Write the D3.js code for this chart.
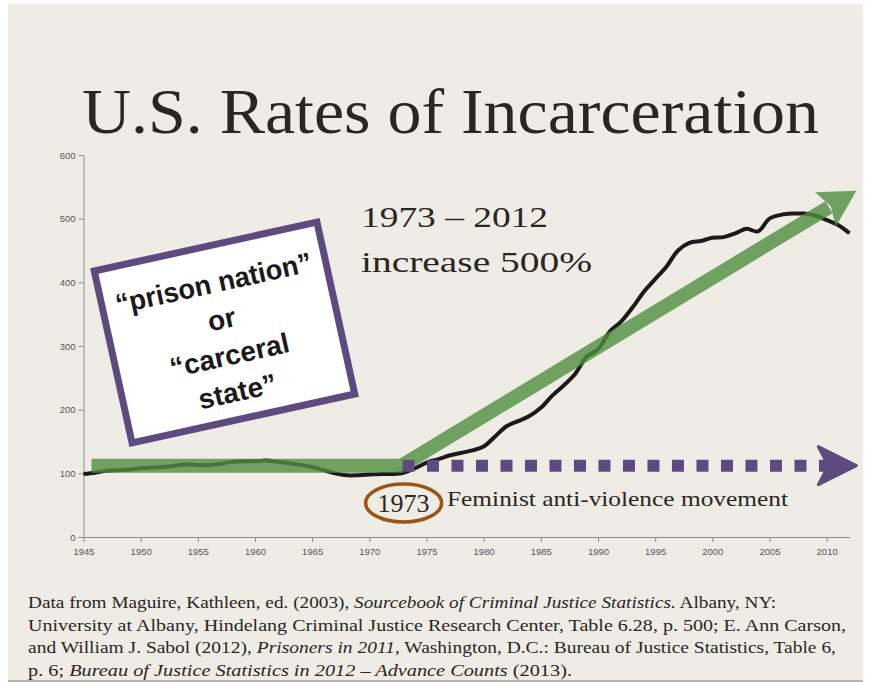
<!DOCTYPE html>
<html>
<head>
<meta charset="utf-8">
<script src="https://cdn.jsdelivr.net/npm/d3@7"></script>
<style>
  html, body { margin: 0; padding: 0; background: #fff; }
  svg { display: block; }
</style>
</head>
<body>
<svg width="874" height="683"></svg>
<script>
// incarceration rate per 100,000
const years = d3.range(1945, 2013);
const rates = [
  99, 101, 104, 105, 106, 108, 109, 110, 112, 114,
  113, 113, 115, 118, 119, 119, 120, 118, 116, 113,
  110, 105, 100, 97, 97, 98, 99, 99, 101, 108,
  117, 122, 128, 132, 136, 142, 158, 174, 182, 190,
  203, 222, 238, 256, 283, 295, 322, 338, 360, 385,
  405, 425, 450, 462, 465, 470, 471, 477, 484, 480,
  500, 506, 508, 508, 505, 498, 490, 477
];
const yTicks = [0, 100, 200, 300, 400, 500, 600];
const xTicks = d3.range(1945, 2011, 5);

// annotation arrows, in data units
const growthArrow = [[1945.7, 112], [1972.8, 112], [2012.6, 544]];
const movementArrow = [[1972.9, 112], [2012.6, 112]];

const boxLines = ['\u201Cprison nation\u201D', 'or', '\u201Ccarceral', 'state\u201D'];
const footer = [
  [['Data from Maguire, Kathleen, ed. (2003), ', false], ['Sourcebook of Criminal Justice Statistics.', true], [' Albany, NY:', false]],
  [['University at Albany, Hindelang Criminal Justice Research Center, Table 6.28, p. 500; E. Ann Carson,', false]],
  [['and William J. Sabol (2012), ', false], ['Prisoners in 2011', true], [', Washington, D.C.: Bureau of Justice Statistics, Table 6,', false]],
  [['p. 6; ', false], ['Bureau of Justice Statistics in 2012 \u2013 Advance Counts', true], [' (2013).', false]]
];
const footerWidths = [748, 818, 808, 544];

const serif = "'Liberation Serif', 'Times New Roman', serif";
const sans = "'Liberation Sans', Arial, sans-serif";

const svg = d3.select('svg');

// slide background
svg.append('rect').attr('x', 8).attr('y', 4).attr('width', 855).attr('height', 677)
    .attr('fill', '#efece6');
svg.append('line').attr('x1', 8).attr('x2', 863).attr('y1', 681).attr('y2', 681)
    .attr('stroke', '#b8b6b2').attr('stroke-width', 2);

svg.append('text')
    .attr('x', 82).attr('y', 133)
    .attr('font-family', serif)
    .attr('font-size', 64)
    .attr('fill', '#2b2622')
    .attr('textLength', 737).attr('lengthAdjust', 'spacingAndGlyphs')
    .text('U.S. Rates of Incarceration');

const x = d3.scaleLinear().domain([1945, 2012]).range([83.5, 849.5]);
const y = d3.scaleLinear().domain([0, 600]).range([537, 155]);

const gx = svg.append('g')
    .attr('transform', `translate(0,${y(0)})`)
    .call(d3.axisBottom(x).tickValues(xTicks).tickFormat(d3.format('d')).tickSize(5).tickSizeOuter(0));
const gy = svg.append('g')
    .attr('transform', `translate(${x(1945)},0)`)
    .call(d3.axisLeft(y).tickValues(yTicks).tickSize(5).tickSizeOuter(0));

[gx, gy].forEach(g => {
    g.select('.domain').attr('stroke', '#8c8c8c');
    g.selectAll('.tick line').attr('stroke', '#8c8c8c');
    g.selectAll('.tick text')
        .attr('font-family', sans)
        .attr('font-size', 9.5)
        .attr('fill', '#555');
});
gx.selectAll('.tick text').attr('dy', '1.1em');

// incarceration line
const line = d3.line()
    .x((d, i) => x(years[i]))
    .y(d => y(d))
    .curve(d3.curveCatmullRom);

svg.append('path')
    .datum(rates)
    .attr('d', line)
    .attr('fill', 'none')
    .attr('stroke', '#1c1a18')
    .attr('stroke-width', 4)
    .attr('stroke-linejoin', 'round');

// green growth arrow
const gp = growthArrow.map(d => [x(d[0]), y(d[1])]);
const tip = gp[2];
const ang = Math.atan2(tip[1] - gp[1][1], tip[0] - gp[1][0]);
const headLen = 36, headHalf = 20;
const ux = Math.cos(ang), uy = Math.sin(ang);
const base = [tip[0] - ux * headLen, tip[1] - uy * headLen];
const green = svg.append('g').attr('opacity', 0.8);
green.append('path')
    .attr('d', d3.line()([gp[0], gp[1], [base[0] + ux * 4, base[1] + uy * 4]]))
    .attr('fill', 'none')
    .attr('stroke', '#4f8f3f')
    .attr('stroke-width', 14)
    .attr('stroke-linejoin', 'miter');
green.append('path')
    .attr('d', d3.line()([
        tip,
        [base[0] - uy * headHalf, base[1] + ux * headHalf],
        [base[0] + ux * 6, base[1] + uy * 6],
        [base[0] + uy * headHalf, base[1] - ux * headHalf]
    ]) + 'Z')
    .attr('fill', '#4f8f3f');

// purple dotted arrow
const mp = movementArrow.map(d => [x(d[0]), y(d[1])]);
svg.append('path')
    .attr('d', d3.line()([mp[0], [mp[1][0] - 26, mp[1][1]]]))
    .attr('stroke', '#5d4b80')
    .attr('stroke-width', 12)
    .attr('stroke-dasharray', '12 12.5');
svg.append('path')
    .attr('d', d3.line()([
        [mp[1][0] - 38, mp[1][1] - 19],
        mp[1],
        [mp[1][0] - 38, mp[1][1] + 19],
        [mp[1][0] - 28, mp[1][1]]
    ]) + 'Z')
    .attr('fill', '#5d4b80')
    .attr('stroke', '#5d4b80')
    .attr('stroke-width', 3)
    .attr('stroke-linejoin', 'round');

// 1973 marker
svg.append('ellipse')
    .attr('cx', x(1973)).attr('cy', 503).attr('rx', 38).attr('ry', 19)
    .attr('fill', 'none').attr('stroke', '#9a5418').attr('stroke-width', 3.5);
svg.append('text')
    .attr('x', x(1973)).attr('y', 512)
    .attr('text-anchor', 'middle')
    .attr('font-family', serif)
    .attr('font-size', 25)
    .attr('fill', '#2b2622')
    .attr('textLength', 52).attr('lengthAdjust', 'spacingAndGlyphs')
    .text('1973');
svg.append('text')
    .attr('x', 447).attr('y', 506)
    .attr('font-family', serif)
    .attr('font-size', 21)
    .attr('fill', '#2b2622')
    .attr('textLength', 341).attr('lengthAdjust', 'spacingAndGlyphs')
    .text('Feminist anti-violence movement');

// 1973 - 2012 note
svg.append('text')
    .attr('x', 361).attr('y', 227)
    .attr('font-family', serif)
    .attr('font-size', 30)
    .attr('fill', '#2b2622')
    .attr('textLength', 187).attr('lengthAdjust', 'spacingAndGlyphs')
    .text('1973 \u2013 2012');
svg.append('text')
    .attr('x', 361).attr('y', 272)
    .attr('font-family', serif)
    .attr('font-size', 30)
    .attr('fill', '#2b2622')
    .attr('textLength', 231).attr('lengthAdjust', 'spacingAndGlyphs')
    .text('increase 500%');

// rotated callout box
const box = svg.append('g')
    .attr('transform', 'translate(224.5,332.5) rotate(-12.4)');
box.append('rect')
    .attr('x', -114).attr('y', -88).attr('width', 228).attr('height', 176)
    .attr('fill', '#fff')
    .attr('stroke', '#5d4b80')
    .attr('stroke-width', 7);
box.selectAll('text.box')
    .data(boxLines)
    .join('text')
    .attr('class', 'box')
    .attr('x', 0)
    .attr('y', (d, i) => -41 + i * 37)
    .attr('text-anchor', 'middle')
    .attr('font-family', sans)
    .attr('font-weight', 'bold')
    .attr('font-size', 28)
    .attr('fill', '#1a1a1a')
    .attr('textLength', d => d.length > 10 ? 200 : null)
    .attr('lengthAdjust', 'spacingAndGlyphs')
    .text(d => d);

// source footer
const ft = svg.selectAll('text.foot')
    .data(footer)
    .join('text')
    .attr('class', 'foot')
    .attr('x', 28)
    .attr('y', (d, i) => 608 + i * 22.5)
    .attr('font-family', serif)
    .attr('font-size', 16.5)
    .attr('fill', '#2b2622')
    .attr('textLength', (d, i) => footerWidths[i])
    .attr('lengthAdjust', 'spacingAndGlyphs');
ft.selectAll('tspan')
    .data(d => d)
    .join('tspan')
    .attr('font-style', d => d[1] ? 'italic' : null)
    .text(d => d[0]);
</script>
</body>
</html>
